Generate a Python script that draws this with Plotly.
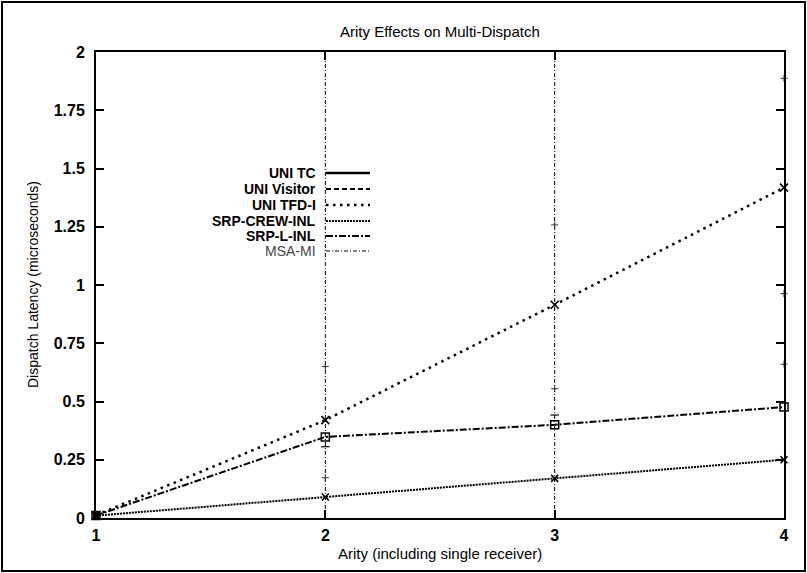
import plotly.graph_objects as go

# ---- data ----
arity = [1, 2, 3, 4]
uni_tc_x = [1]
uni_tc = [0.012]
uni_visitor_x = [1]
uni_visitor = [0.014]
uni_tfd_i = [0.012, 0.42, 0.915, 1.418]
srp_crew_inl = [0.010, 0.09, 0.17, 0.25]
srp_l_inl = [0.011, 0.348, 0.40, 0.476]
msa_mi_x = [2, 2, None, 3, 3]
msa_mi = [0, 2, None, 0, 2]
msa_mark_x = [2, 2, 3, 3, 4, 4, 4]
msa_mark_y = [0.65, 0.173, 1.258, 0.555, 1.887, 0.963, 0.66]
cap_x = [2, 3]
cap_y = [0.306, 0.442]

x_ticks = [1, 2, 3, 4]
y_ticks = [0, 0.25, 0.5, 0.75, 1, 1.25, 1.5, 1.75, 2]
y_tick_text = ["0", "0.25", "0.5", "0.75", "1", "1.25", "1.5", "1.75", "2"]

legend_names = ["UNI TC", "UNI Visitor", "UNI TFD-I", "SRP-CREW-INL", "SRP-L-INL", "MSA-MI"]

FONT = "Liberation Sans, Arial, Helvetica, sans-serif"
W, H = 807, 573
L, R, T, B = 96, 784, 52, 518

styles = {
    "UNI TC": dict(dash="solid", width=2.5),
    "UNI Visitor": dict(dash="5px,3px", width=2),
    "UNI TFD-I": dict(dash="2.5px,4.5px", width=2.5),
    "SRP-CREW-INL": dict(dash="2px,1px", width=2),
    "SRP-L-INL": dict(dash="7px,2px,2px,2px", width=2),
    "MSA-MI": dict(dash="4px,2px,1px,2px", width=1),
}

fig = go.Figure()

fig.add_trace(go.Scatter(x=msa_mi_x, y=msa_mi, mode="lines", name="MSA-MI",
                         line=dict(color="black", **styles["MSA-MI"]), showlegend=False))
fig.add_trace(go.Scatter(x=msa_mark_x, y=msa_mark_y, mode="markers", name="MSA-MI marks",
                         marker=dict(symbol="cross-thin", size=5, line=dict(color="#333", width=1)),
                         showlegend=False, cliponaxis=False))
fig.add_trace(go.Scatter(x=cap_x, y=cap_y, mode="markers", name="SRP-L-INL caps",
                         marker=dict(symbol="line-ew", size=6, line=dict(color="black", width=1.2)),
                         showlegend=False, cliponaxis=False))
fig.add_trace(go.Scatter(x=arity, y=srp_crew_inl, mode="lines+markers", name="SRP-CREW-INL",
                         line=dict(color="black", **styles["SRP-CREW-INL"]),
                         marker=dict(symbol="x-thin", size=7, line=dict(color="black", width=1.6)),
                         showlegend=False, cliponaxis=False))
fig.add_trace(go.Scatter(x=arity, y=srp_l_inl, mode="lines+markers", name="SRP-L-INL",
                         line=dict(color="black", **styles["SRP-L-INL"]),
                         marker=dict(symbol="square-open", size=8, color="black", line=dict(color="black", width=1.5)),
                         showlegend=False, cliponaxis=False))
fig.add_trace(go.Scatter(x=arity, y=uni_tfd_i, mode="lines+markers", name="UNI TFD-I",
                         line=dict(color="black", **styles["UNI TFD-I"]),
                         marker=dict(symbol="x-thin", size=8, line=dict(color="black", width=1.6)),
                         showlegend=False, cliponaxis=False))
fig.add_trace(go.Scatter(x=uni_tc_x, y=uni_tc, mode="markers", name="UNI TC",
                         marker=dict(symbol="square", size=6, color="black"),
                         showlegend=False, cliponaxis=False))
fig.add_trace(go.Scatter(x=uni_visitor_x, y=uni_visitor, mode="markers", name="UNI Visitor",
                         marker=dict(symbol="square", size=5, color="black"),
                         showlegend=False, cliponaxis=False))

def px_x(p):
    return (p - L) / (R - L)

def px_y(p):
    return (B - p) / (B - T)

shapes = []
annotations = []

# outer frame
shapes.append(dict(type="rect", xref="paper", yref="paper",
                   x0=px_x(2), x1=px_x(805), y0=px_y(571), y1=px_y(2),
                   line=dict(color="black", width=2), layer="above"))

# manual legend (text right-aligned, sample on the right)
row_y = [173, 189, 205, 221, 236, 251]
for name, ry in zip(legend_names, row_y):
    is_msa = name == "MSA-MI"
    annotations.append(dict(xref="paper", yref="paper", x=px_x(318), y=px_y(ry),
                            xanchor="right", yanchor="middle", showarrow=False,
                            text=name if is_msa else "<b>%s</b>" % name,
                            font=dict(family=FONT, size=14, color="#444" if is_msa else "black")))
    st = styles[name]
    shapes.append(dict(type="line", xref="paper", yref="paper",
                       x0=px_x(326), x1=px_x(370), y0=px_y(ry), y1=px_y(ry),
                       line=dict(color="black", width=st["width"], dash=st["dash"])))

# title and axis titles
annotations.append(dict(xref="paper", yref="paper", x=0.5, y=px_y(31), xanchor="center",
                        yanchor="middle", showarrow=False, text="Arity Effects on Multi-Dispatch",
                        font=dict(family=FONT, size=15, color="black")))
annotations.append(dict(xref="paper", yref="paper", x=0.5, y=px_y(553), xanchor="center",
                        yanchor="middle", showarrow=False, text="Arity (including single receiver)",
                        font=dict(family=FONT, size=15, color="black")))
annotations.append(dict(xref="paper", yref="paper", x=px_x(33), y=0.5, xanchor="center",
                        yanchor="middle", showarrow=False, textangle=-90,
                        text="Dispatch Latency (microseconds)",
                        font=dict(family=FONT, size=14, color="black")))

fig.update_layout(
    width=W, height=H,
    margin=dict(l=L, r=W - R, t=T, b=H - B, pad=0),
    paper_bgcolor="white", plot_bgcolor="white",
    showlegend=False,
    shapes=shapes, annotations=annotations,
    xaxis=dict(range=[1, 4], tickvals=x_ticks, ticktext=[str(v) for v in x_ticks],
               showgrid=False, zeroline=False, showline=True, linecolor="black", linewidth=2,
               mirror="ticks", ticks="inside", ticklen=8, tickwidth=1.5, tickcolor="black",
               ticklabelstandoff=2,
               tickfont=dict(family=FONT, size=16, color="black", weight="bold")),
    yaxis=dict(range=[0, 2], tickvals=y_ticks, ticktext=y_tick_text,
               showgrid=False, zeroline=False, showline=True, linecolor="black", linewidth=2,
               mirror="ticks", ticks="inside", ticklen=8, tickwidth=1.5, tickcolor="black",
               ticklabelstandoff=6,
               tickfont=dict(family=FONT, size=16, color="black", weight="bold")),
)

fig.write_html("out.html", config={"displayModeBar": False},
               post_script="document.body.style.margin='0';")
